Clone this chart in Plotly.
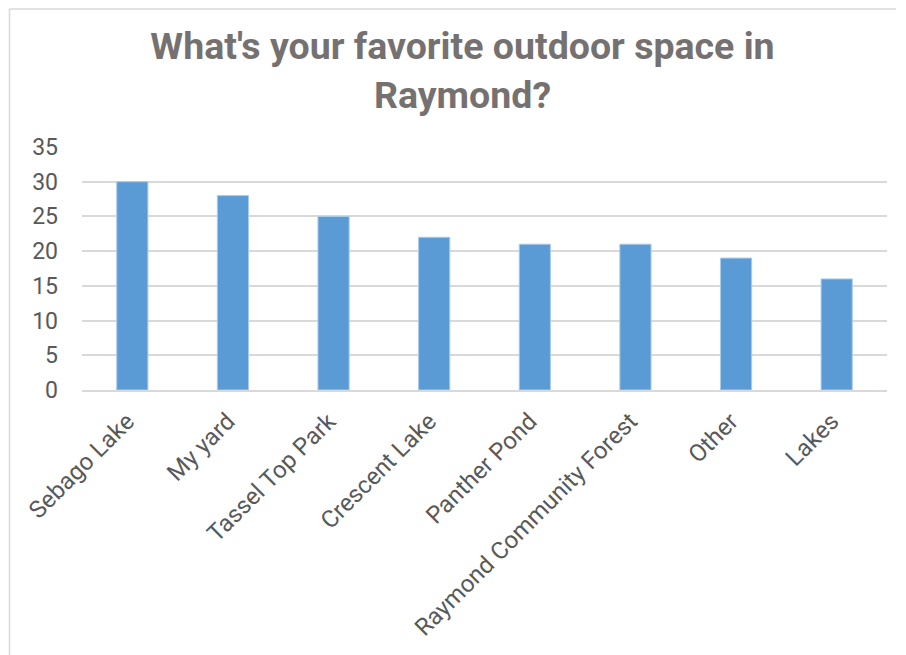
import plotly.graph_objects as go

categories = ["Sebago Lake", "My yard", "Tassel Top Park", "Crescent Lake",
              "Panther Pond", "Raymond Community Forest", "Other", "Lakes"]
values = [30, 28, 25, 22, 21, 21, 19, 16]
y_ticks = [0, 5, 10, 15, 20, 25, 30, 35]

# page body has an 8px margin; work in window pixels and convert
OFF = 8
W, H = 906, 655
PL, PR, PT, PB = 82, 887, 147, 390  # plot area in window pixels
L = PL - OFF
T = PT - OFF
R = W - (PR - OFF)
B = H - (PB - OFF)
pw, ph = W - L - R, H - T - B

def px_x(p):
    return (p - OFF - L) / pw

def px_y(p):
    return (H - B - (p - OFF)) / ph

fig = go.Figure(go.Bar(
    x=categories, y=values,
    marker=dict(color="#5B9BD5", line=dict(color="#A9CBEC", width=1)),
    width=0.31,
))

fig.update_layout(
    width=W, height=H,
    margin=dict(l=L, r=R, t=T, b=B, autoexpand=False),
    paper_bgcolor="white", plot_bgcolor="white",
    font=dict(family="Roboto", color="#595959", size=23),
    title=dict(
        text="<b>What's your favorite outdoor space in<br>Raymond?</b>",
        x=(462.5 - OFF) / W, xanchor="center", xref="container",
        y=1 - (59 - OFF) / H, yanchor="middle", yref="container",
        font=dict(family="Roboto", size=37.5, color="#767171"),
    ),
    showlegend=False,
    xaxis=dict(tickangle=-45, showgrid=False, showline=True, linecolor="#D9D9D9",
               linewidth=1.5, ticks="", ticklabelshift=-5, ticklabelstandoff=6,
               tickfont=dict(size=24, color="#595959")),
    yaxis=dict(range=[0, 35], tickvals=y_ticks, showgrid=True, gridcolor="#D9D9D9",
               gridwidth=1.5, zeroline=False, showline=False, ticks="",
               ticklabelstandoff=23,
               tickfont=dict(size=23, color="#595959")),
    shapes=[
        dict(type="line", xref="paper", yref="paper",
             x0=px_x(9.5), x1=px_x(9.5), y0=px_y(9), y1=px_y(H + 20),
             line=dict(color="#D9D9D9", width=1.5)),
        dict(type="line", xref="paper", yref="paper",
             x0=px_x(9.5), x1=px_x(896), y0=px_y(9), y1=px_y(9),
             line=dict(color="#D9D9D9", width=1.5)),
    ],
)

fig.write_html("out.html")
